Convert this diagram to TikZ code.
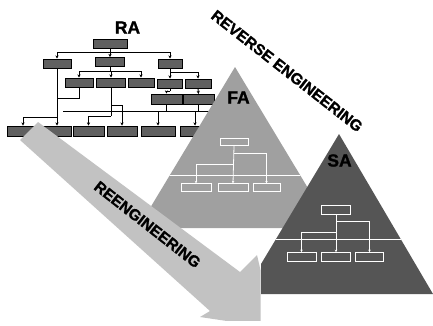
\documentclass[tikz,border=0pt]{standalone}
\usepackage{fontspec}
\setmainfont{Liberation Sans}
\newfontfamily\heavyfont[FakeBold=1.4]{Liberation Sans Bold}
\usetikzlibrary{arrows.meta}
\definecolor{arrowgray}{HTML}{C2C2C2}
\definecolor{fagray}{HTML}{A0A0A0}
\definecolor{sagray}{HTML}{555555}
\definecolor{boxgray}{HTML}{606060}
\begin{document}
\begin{tikzpicture}[x=1pt,y=-1pt,
  rabox/.style={draw=black, line width=1pt, fill=boxgray, inner sep=0pt, minimum height=9pt},
  rawire/.style={draw=black, line width=0.9pt},
  raarrow/.style={rawire, -{Stealth[length=3.2pt,width=3.2pt]}},
  fabox/.style={draw=white, line width=0.8pt, fill=fagray, inner sep=0pt, minimum height=7.5pt},
  sabox/.style={draw=white, line width=0.8pt, fill=sagray, inner sep=0pt, minimum height=9pt},
  wwire/.style={draw=white, line width=0.8pt},
  warrow/.style={wwire, -{Stealth[length=2.5pt,width=2.5pt]}},
  title/.style={font=\heavyfont\fontsize{17.5}{18}\selectfont, inner sep=0pt},
  band/.style={font=\heavyfont\fontsize{15.5}{16}\selectfont, inner sep=0pt, rotate=-38}
]
\useasboundingbox (0,0) rectangle (433,325);
\fill[white] (0,0) rectangle (433,325);

% ---------- RA: organisation chart ----------
\node[title] (ra) at (127.5,27.5) {RA};
\node[rabox, minimum width=34pt] (t)  at (110,43.5) {};
\node[rabox, minimum width=28pt] (a1) at (57,63.5) {};
\node[rabox, minimum width=29pt] (a2) at (110,62) {};
\node[rabox, minimum width=24pt] (a3) at (170,63.5) {};
\node[rabox, minimum width=28pt] (b1) at (79,82.5) {};
\node[rabox, minimum width=29pt] (b2) at (111,82.5) {};
\node[rabox, minimum width=26pt] (b3) at (141,82.5) {};
\node[rabox, minimum width=25pt] (b4) at (170,83.5) {};
\node[rabox, minimum width=26pt] (b5) at (198,83.5) {};
\node[rabox, minimum width=31pt, minimum height=10pt] (c1) at (166.5,99) {};
\node[rabox, minimum width=31pt, minimum height=10pt] (c2) at (198.5,99.5) {};
\node[rabox, minimum width=32pt, minimum height=10pt] (d1) at (23,131) {};
\node[rabox, minimum width=28pt, minimum height=10pt] (d2) at (57,131) {};
\node[rabox, minimum width=31pt, minimum height=10pt] (d3) at (88.5,131) {};
\node[rabox, minimum width=30pt, minimum height=10pt] (d4) at (122,131) {};
\node[rabox, minimum width=34pt, minimum height=10pt] (d5) at (158,131) {};
\node[rabox, minimum width=30pt, minimum height=10pt] (d6) at (195,131) {};

\coordinate (j0) at (110,52);
\draw[rawire] (t.south) -- (j0);
\draw[raarrow] (j0) -| (a1.north);
\draw[raarrow] (j0) -- (a2.north);
\draw[raarrow] (j0) -| (a3.north);

\coordinate (j1) at (110,71.5);
\draw[rawire] (a2.south) -- (j1);
\draw[raarrow] (j1) -| (b1.north);
\draw[raarrow] (j1) -| (b2.north);
\draw[raarrow] (j1) -| (b3.north);

\coordinate (j2) at (170,72.5);
\draw[raarrow] (a3.south) -- (b4.north);
\draw[raarrow] (j2) -| (b5.north);

\coordinate (j3) at (170,91);
\draw[rawire] (b4.south) -- (j3);
\draw[raarrow] (j3) -| (c1.north);
\draw[raarrow] (b5.south) -- (c2.north);

\coordinate (l1) at (63,111);
\coordinate (l2) at (213,111);
\draw[rawire] (l1) -- (l2);
\draw[rawire] (c1.south) -- (c1.south |- l1);
\draw[rawire] (c2.south) -- (c2.south |- l1);
\draw[raarrow] (c1.south |- l1) -| (d5.north);
\draw[raarrow] (c2.south |- l1) -| (d6.north);

\coordinate (j5) at (111,116);
\coordinate (j6) at (111,105);
\draw[rawire] (b2.south) -- (j5);
\draw[raarrow] (j5) -| (d3.north);
\draw[raarrow] (j6) -| (d4.north);

\coordinate (j7) at (57,117);
\coordinate (j8) at (57,98);
\draw[raarrow] (a1.south) -- (d2.north);
\draw[raarrow] (j7) -| (d1.north);
\draw[rawire] (b1.south) |- (j8);

% ---------- FA: first pyramid ----------
\coordinate (faTop) at (235,67);
\coordinate (faR) at (332,228);
\coordinate (faL) at (138,228);
\fill[fagray] (faTop) -- (faR) -- (faL) -- cycle;
\begin{scope}
  \clip (faTop) -- (faR) -- (faL) -- cycle;
  \draw[wwire] (100,175) -- (360,175);
\end{scope}
\node[fabox, minimum width=28pt] (ft)  at (234,142) {};
\node[fabox, minimum width=30pt] (fb1) at (196,187.5) {};
\node[fabox, minimum width=30pt] (fb2) at (233,187.5) {};
\node[fabox, minimum width=27pt] (fb3) at (266.5,187.5) {};
\coordinate (fj1) at (234,153);
\coordinate (fj2) at (234,164);
\draw[warrow] (ft.south) -- (fb2.north);
\draw[warrow] (fj1) -| (fb3.north);
\draw[warrow] (fj2) -| (fb1.north);
\node[title] (fa) at (238.5,97.5) {FA};

% ---------- reengineering arrow ----------
\begin{scope}
  \clip (0,0) rectangle (260.5,320);
  \fill[arrowgray] (38,122) -- (240,272) -- (257,255) -- (274,328)
    -- (200,317) -- (210,311) -- (20,140) -- cycle;
\end{scope}
\node[band] (reeng) at (147.5,224.5) {REENGINEERING};

% ---------- SA: second pyramid ----------
\coordinate (saTop) at (339,134);
\fill[sagray] (saTop) -- (433,294) -- (261,294) -- (261,264) -- cycle;
\begin{scope}
  \clip (saTop) -- (433,294) -- (261,294) -- (261,264) -- cycle;
  \draw[wwire] (250,239) -- (433,239);
\end{scope}
\node[sabox, minimum width=29pt] (st)  at (336,210) {};
\node[sabox, minimum width=29pt] (sb1) at (301.5,257) {};
\node[sabox, minimum width=29pt] (sb2) at (336,257) {};
\node[sabox, minimum width=28pt] (sb3) at (369.5,257) {};
\coordinate (sj1) at (336,221);
\coordinate (sj2) at (336,232);
\draw[warrow] (st.south) -- (sb2.north);
\draw[warrow] (sj1) -| (sb3.north);
\draw[warrow] (sj2) -| (sb1.north);
\node[title] (sa) at (339.5,160.5) {SA};

% ---------- reverse engineering label ----------
\node[band] (rev) at (287,71) {REVERSE ENGINEERING};
\end{tikzpicture}
\end{document}
